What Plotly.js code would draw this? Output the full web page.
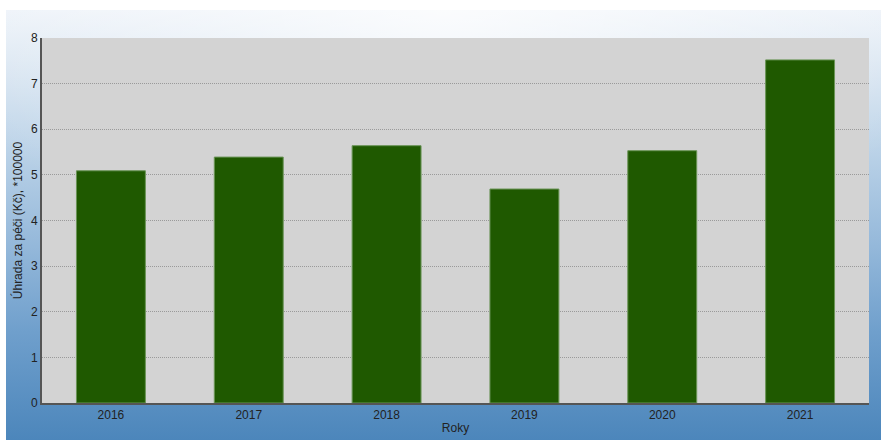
<!DOCTYPE html>
<html>
<head>
<meta charset="utf-8">
<script src="https://cdn.plot.ly/plotly-3.0.1.min.js"></script>
<style>
html,body{margin:0;padding:0;background:#fff;}
#wrap{position:relative;width:881px;height:440px;overflow:hidden;}
#bg{position:absolute;left:6px;top:10px;width:875px;height:430px;
background:
 radial-gradient(ellipse 520px 260px at 50% 0%, rgba(255,255,255,0.75) 0%, rgba(255,255,255,0.35) 50%, rgba(255,255,255,0) 100%),
 linear-gradient(to bottom, #eef3f9 0%, #dde8f3 12%, #bcd3e8 32%, #94b8da 55%, #6f9fcc 75%, #5a90c2 90%, #4c86bb 100%);}
#chart{position:absolute;left:0;top:0;width:881px;height:440px;}
</style>
</head>
<body>
<div id="wrap"><div id="bg"></div><div id="chart"></div></div>
<script>
const years = ['2016','2017','2018','2019','2020','2021'];
const values = [5.09, 5.39, 5.64, 4.69, 5.53, 7.52];
const yTicks = [0,1,2,3,4,5,6,7,8];

const trace = {
  type: 'bar',
  x: years,
  y: values,
  marker: {color: '#1f5900', line: {color: '#6a9456', width: 1}},
  hoverinfo: 'x+y'
};

const layout = {
  width: 881, height: 440,
  margin: {l: 42, r: 12, t: 38, b: 37},
  paper_bgcolor: 'rgba(0,0,0,0)',
  plot_bgcolor: '#d3d3d3',
  bargap: 0.5,
  showlegend: false,
  font: {family: 'Liberation Sans, Arial, sans-serif', size: 12, color: '#222'},
  xaxis: {
    type: 'category',
    showline: true, linecolor: '#555', linewidth: 2,
    ticks: '', showgrid: false,
    tickfont: {size: 12, color: '#222'},
    title: {text: 'Roky', font: {size: 12, color: '#222'}, standoff: 2},
    automargin: false
  },
  yaxis: {
    range: [0, 8],
    tickvals: yTicks,
    showline: true, linecolor: '#555', linewidth: 2,
    ticks: '',
    showgrid: true, gridcolor: '#9a9a9a', griddash: '1px,1px', gridwidth: 1,
    zeroline: false,
    tickfont: {size: 12, color: '#222'},
    title: {text: 'Úhrada za péči (Kč), *100000', font: {size: 12, color: '#222'}, standoff: 6},
    automargin: false
  }
};

Plotly.newPlot('chart', [trace], layout, {displayModeBar: false, staticPlot: true});
</script>
</body>
</html>
